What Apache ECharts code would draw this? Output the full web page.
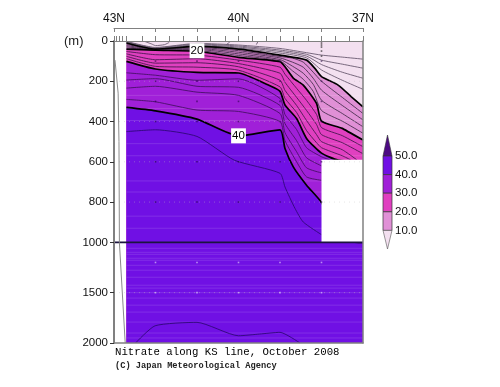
<!DOCTYPE html>
<html><head><meta charset="utf-8">
<style>html,body{margin:0;padding:0;background:#fff}#c{width:500px;height:387px}</style>
<script src="https://cdn.jsdelivr.net/npm/echarts@6/dist/echarts.min.js"></script>
</head><body><div id="c"></div>
<script>
// contours: [latitude, depth in m]
const level10 = [[42.7,10],[42,40],[41,27],[40,40],[39,70],[38.36,95],[38.16,136],[38,177],[37.6,219],[37.28,277],[37,327]];
const level20 = [[42.7,40],[42,46],[41,51],[40,81],[39,103],[38.88,128],[38.68,184],[38.44,219],[38.12,310],[38,398],[37.5,434],[37,492]];
const level30 = [[42.7,101],[42,139],[41,156],[40,159],[39.28,219],[39,250],[38.88,318],[38.6,385],[38.36,484],[38,557],[37.6,592],[37,600]];
const level40 = [[42.7,330],[42,347],[41,388],[40,471],[39,441],[38.88,534],[38.68,625],[38.36,716],[38,802],[37.5,990],[37,1000]];
const thin0 = [
 [[42.7,2],[42,32],[41,12],[40,20],[39,37],[38.36,58],[38,70],[37.5,80],[37,90]],
 [[42.7,4],[42,34],[41,15],[40,25],[39,45],[38.36,66],[38,95],[37.5,115],[37,135]],
 [[42.7,6],[42,36],[41,19],[40,30],[39,52],[38.36,75],[38,117],[37.5,155],[37,185]],
 [[42.7,8],[42,38],[41,23],[40,35],[39,60],[38.36,84],[38,144],[37.5,195],[37,240]],
 [[42.25,3],[42.09,15],[42,23],[41.78,18],[41.67,7]],
 [[40.29,18],[40.21,5]],
 [[39.57,18],[39.53,2]]
];
const thin10 = [
 [[42.7,16],[42,41],[41,32],[40,48],[39,77],[38.7,85],[38.44,105],[38.2,155],[38,200],[37.5,280],[37,360]],
 [[42.7,22],[42,42],[41,37],[40,56],[39,84],[38.7,105],[38.44,130],[38.2,185],[38,244],[37.5,320],[37,392]],
 [[42.7,28],[42,44],[41,42],[40,64],[39,92],[38.7,125],[38.44,160],[38.2,215],[38,294],[37.5,360],[37,426]],
 [[42.7,34],[42,45],[41,47],[40,72],[39,99],[38.7,148],[38.44,190],[38.2,250],[38,345],[37.5,398],[37,458]]
];
const thin20 = [
 [[42.7,52],[42,68],[41,70],[40,95],[39,130],[38.88,165],[38.6,235],[38.36,295],[38.12,365],[38,430],[37.5,470],[37,525]],
 [[42.7,64],[42,93],[41,88],[40,112],[39,160],[38.88,205],[38.6,280],[38.36,345],[38.12,415],[38,465],[37.5,505],[37,560]],
 [[42.7,76],[42,110],[41,108],[40,128],[39,195],[38.88,245],[38.6,320],[38.36,395],[38.12,465],[38,500],[37.5,540],[37.15,590]],
 [[42.7,88],[42,126],[41,130],[40,145],[39,228],[38.88,285],[38.6,355],[38.36,445],[38.12,505],[38,530],[37.5,570],[37.3,590]]
];
const thin30 = [
 [[42.7,158],[42,170],[41,195],[40,188],[39,285],[38.88,365],[38.6,440],[38.36,530],[38,575],[37.8,590]],
 [[42.7,194],[42,187],[41,225],[40,230],[39,320],[38.88,410],[38.6,495],[38.36,580],[38,620]],
 [[42.7,234],[42,225],[41,254],[40,270],[39,360],[38.88,455],[38.6,550],[38.36,630],[38,655]],
 [[42.7,290],[42,302],[41,343],[40,350],[39,400],[38.88,495],[38.6,600],[38.36,675],[38,692]]
];
const thin40 = [
 [[42.7,450],[42,441],[41,474],[40.1,592],[39,657],[38.88,725],[38.64,831],[38.44,899],[38,962]],
 [[42.48,2000],[42.01,1829],[41,1795],[40,1928],[39.49,1911],[39,1894],[38.52,2000]]
];
const outerLine = [[42.976,95],[42.9,259],[42.88,500],[42.87,1000],[42.73,2000]];
const surfaceLine = [[42.7,0],[37,0]];
const emptyBox = {latFrom:38, latTo:37, depthFrom:590, depthTo:1000};
const stripeDepths = [270,335,395,510,570,695,750,870,930,1059,1099,1119,1158,1178,1228,1277,1347,1426,1455,1500,1554,1624,1693,1792,1901,1950];
const gridDepths = [200,400,600,800,1500];
const stations = [42,41,40,39,38];
const darkDotDepths = [100,200,300,400,600,800];
const paleDotDepths = [1200,1500];
const col38Depths = [10,20,30,50,75];
const bandColors = ['#f3e0f0','#e090d6','#e040c0','#a020d8','#7010e4','#4d0a84'];
const colorbarTicks = ['10.0','20.0','30.0','40.0','50.0'];
const depthTicks = [0,200,400,600,800,1000,1500,2000];
const latTicks = [43,40,37];
const latMajorTicks = [43,42,41,40,39,38,37];
const stationTicks = [43,42.94,42.88,42.8,42.7,42.33,42,41.67,41.33,41,40.67,40.33,40,39.67,39.33,39,38.67,38.33,38,37.67,37.33,37];
const labelled = [{lat:41,depth:48,text:'20'},{lat:40,depth:471,text:'40'}];
const titleText = 'Nitrate along KS line, October 2008';
const creditText = '(C) Japan Meteorological Agency';

const ds = d => d <= 1000 ? d : 1000 + (d - 1000) / 2;
const ids = v => v <= 1000 ? v : 1000 + (v - 1000) * 2;
const pts = a => a.map(p => [p[0], ds(p[1])]);
const series = [];
const SM = 0.2;
const fill = (a, c, z) => series.push({type:'line', data:pts(a), showSymbol:false, silent:true, z, smooth:SM,
  lineStyle:{width:0}, areaStyle:{color:c, opacity:1, origin:'end'}});
const line = (a, c, w, z, extra, smooth) => series.push({type:'line', data:pts(a), showSymbol:false, silent:true, z, smooth:smooth||false,
  lineStyle:Object.assign({color:c, width:w}, extra||{})});

fill(surfaceLine, bandColors[0], 1);
fill(level10, bandColors[1], 2);
fill(level20, bandColors[2], 3);
fill(level30, bandColors[3], 4);
fill(level40, bandColors[4], 5);
stripeDepths.forEach(d => line([[42.7,d],[37,d]], 'rgba(255,255,255,0.13)', 1, 6));
thin0.forEach(a => line(a, '#6a5a70', 0.9, 7, null, SM));
thin10.forEach(a => line(a, '#4a3050', 0.9, 7, null, SM));
thin20.forEach(a => line(a, '#4a1850', 0.9, 7, null, SM));
thin30.forEach(a => line(a, '#481068', 0.9, 7, null, SM));
thin40.forEach(a => line(a, '#300878', 0.9, 7, null, SM));
[level10, level20, level30, level40].forEach(a => line(a, '#000', 1.7, 8, null, SM));
series.push({type:'line', data:[], silent:true, z:9, markArea:{silent:true, itemStyle:{color:'#fff', opacity:1}, z:9,
  data:[[{coord:[emptyBox.latFrom, ds(emptyBox.depthFrom)]},{coord:[emptyBox.latTo, ds(emptyBox.depthTo)]}]]}});
gridDepths.forEach(d => line([[43,d],[37,d]], 'rgba(190,190,190,0.4)', 1, 10, {type:[1,4]}));
line([[43,1000],[37,1000]], '#1c1440', 1.6, 11);
line(outerLine, '#8a8a8a', 1, 11);
const dots = (lats, depths, color, z) => series.push({type:'scatter', symbol:'rect', symbolSize:1.6, silent:true, z,
  itemStyle:{color}, data:lats.flatMap(l => depths.map(d => [l, ds(d)]))});
dots(stations, darkDotDepths, 'rgba(30,0,60,0.7)', 11);
dots(stations, paleDotDepths, 'rgba(255,255,255,0.65)', 11);
dots([38], col38Depths, 'rgba(20,20,20,0.8)', 11);
series.push({type:'scatter', symbolSize:1, silent:true, z:12, itemStyle:{color:'#fff', opacity:1},
  data:labelled.map(l => ({value:[l.lat, ds(l.depth)], name:l.text})),
  label:{show:true, opacity:1, position:'inside', formatter:p => p.name, color:'#000', fontSize:11.5, fontFamily:'Liberation Sans',
    backgroundColor:'#ffffff', padding:[2,1,1,1]}});

const gray = '#808080';
const hidden = {show:false};
const option = {
  animation:false,
  backgroundColor:'#fff',
  grid:{left:114, right:137, top:41, bottom:44, containLabel:false},
  xAxis:[
    {type:'value', min:37, max:43, inverse:true, position:'top', z:20,
     axisLine:{show:true, onZero:false, lineStyle:{color:gray, width:1}},
     axisTick:{show:true, length:5, customValues:stationTicks, lineStyle:{color:gray}},
     axisLabel:{show:false}, splitLine:hidden},
    {type:'value', min:37, max:43, inverse:true, position:'top', offset:13, z:20,
     axisLine:{show:true, onZero:false, lineStyle:{color:gray, width:1}},
     axisTick:{show:true, inside:true, length:4, customValues:latMajorTicks, lineStyle:{color:gray}},
     axisLabel:{show:true, customValues:latTicks, margin:3, formatter:v => v + 'N', color:'#111', fontSize:12, fontFamily:'Liberation Sans'},
     splitLine:hidden},
    {type:'value', min:37, max:43, inverse:true, position:'bottom', z:20,
     axisLine:{show:true, onZero:false, lineStyle:{color:gray, width:1.5}},
     axisTick:hidden, axisLabel:hidden, splitLine:hidden}
  ],
  yAxis:[
    {type:'value', min:0, max:1500, inverse:true, position:'left', z:20,
     axisLine:{show:true, onZero:false, lineStyle:{color:gray, width:2}},
     axisTick:{show:true, length:4, customValues:depthTicks.map(ds), lineStyle:{color:'#333'}},
     axisLabel:{show:true, customValues:depthTicks.map(ds), margin:6, formatter:v => String(ids(v)), color:'#111', fontSize:11.5, fontFamily:'Liberation Sans'},
     splitLine:hidden},
    {type:'value', min:0, max:1500, inverse:true, position:'right', z:20,
     axisLine:{show:true, onZero:false, lineStyle:{color:gray, width:1.5}},
     axisTick:hidden, axisLabel:hidden, splitLine:hidden}
  ],
  series,
  graphic:{elements:[
    {type:'text', left:64, top:35, z:30, style:{text:'(m)', font:'13px "Liberation Sans"', fill:'#222', letterSpacing:1}},
    {type:'text', left:115, top:347, z:30, style:{text:titleText, font:'10.7px "Liberation Mono"', fill:'#000'}},
    {type:'text', left:115, top:361, z:30, style:{text:creditText, font:'bold 8.7px "Liberation Mono"', fill:'#222'}},
    {type:'polygon', z:30, shape:{points:[[387.5,135],[392,156],[383,156]]}, style:{fill:bandColors[5], stroke:'#333', lineWidth:0.6}},
    ...[4,3,2,1].map((b,i) => ({type:'rect', z:30, shape:{x:383, y:156+i*18.6, width:9, height:18.6}, style:{fill:bandColors[b], stroke:'#333', lineWidth:0.7}})),
    {type:'polygon', z:30, shape:{points:[[383,230.4],[392,230.4],[387.5,249]]}, style:{fill:bandColors[0], stroke:'#555', lineWidth:0.6}},
    ...colorbarTicks.map((t,i) => ({type:'text', z:30, left:395, top:224.4-i*18.6, style:{text:t, font:'11.5px "Liberation Sans"', fill:'#111'}}))
  ]}
};
echarts.init(document.getElementById('c'), null, {renderer:'canvas'}).setOption(option);
</script></body></html>
